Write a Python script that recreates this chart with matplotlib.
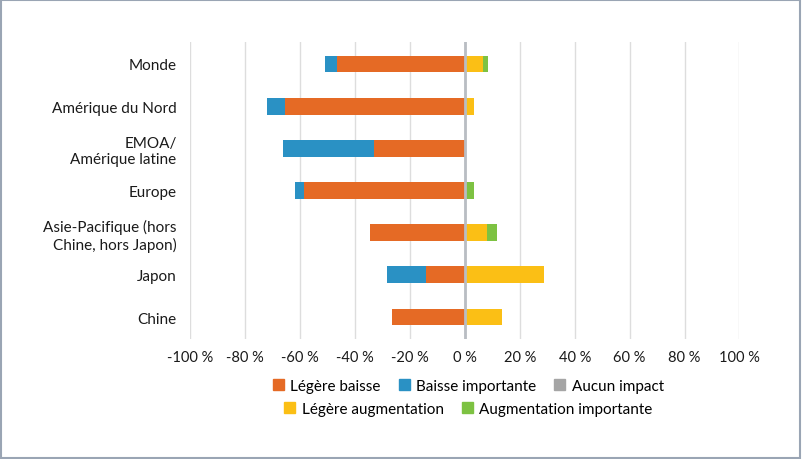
import matplotlib.pyplot as plt
import matplotlib.patches as mpatches
import numpy as np

plt.rcParams['font.family'] = ['Lato', 'DejaVu Sans']

categories = ['Monde', 'Amérique du Nord', 'EMOA/\nAmérique latine', 'Europe',
              'Asie-Pacifique (hors\nChine, hors Japon)', 'Japon', 'Chine']

legere_baisse = [46.5, 65.5, 33.3, 58.5, 34.5, 14.2, 26.5]
baisse_importante = [4.5, 6.6, 33.1, 3.4, 0.0, 14.3, 0.0]
aucun_impact = [0, 0, 0, 0, 0, 0, 0]
legere_augmentation = [6.4, 3.3, 0.0, 0.0, 8.0, 28.7, 13.5]
augmentation_importante = [2.0, 0.0, 0.0, 3.3, 3.8, 0.0, 0.0]

tick_values = [-100, -80, -60, -40, -20, 0, 20, 40, 60, 80, 100]

c_orange = '#E56A25'
c_blue = '#2A91C4'
c_gray = '#A5A5A5'
c_yellow = '#FBBF15'
c_green = '#7DC242'

fig = plt.figure(figsize=(8.02, 4.6), dpi=100)
ax = fig.add_axes([0.2375, 0.261, 0.6845, 0.6455])

y = np.arange(len(categories))
h = 0.4
lb = -np.array(legere_baisse)
bi = -np.array(baisse_importante)
la = np.array(legere_augmentation)
ai = np.array(augmentation_importante)

ax.barh(y, lb, height=h, color=c_orange, zorder=3)
ax.barh(y, bi, left=lb, height=h, color=c_blue, zorder=3)
ax.barh(y, aucun_impact, height=h, color=c_gray, zorder=3)
ax.barh(y, la, height=h, color=c_yellow, zorder=3)
ax.barh(y, ai, left=la, height=h, color=c_green, zorder=3)

ax.axvline(0, color='#B9BDC3', lw=2, zorder=4)

ax.set_xlim(-100, 100)
ax.set_ylim(len(categories) - 0.48, -0.52)
ax.set_xticks(tick_values)
ax.set_xticklabels([f'{v} %' for v in tick_values], fontsize=10.5, color='#1a1a1a')
ax.set_yticks(y)
ax.set_yticklabels(categories, fontsize=11, color='#1a1a1a')
ax.tick_params(length=0, pad=8)
ax.tick_params(axis='y', pad=10)
ax.grid(axis='x', color='#DDDDDD', lw=1, zorder=0)
for s in ax.spines.values():
    s.set_visible(False)

names = ['Légère baisse', 'Baisse importante', 'Aucun impact']
cols = [c_orange, c_blue, c_gray]
h1 = [mpatches.Patch(color=c) for c in cols]
fig.legend(h1, names, loc='center', bbox_to_anchor=(0.584, 0.159), ncol=3,
           frameon=False, fontsize=11, handlelength=0.72, handleheight=0.72,
           handletextpad=0.4, columnspacing=1.2)
names2 = ['Légère augmentation', 'Augmentation importante']
h2 = [mpatches.Patch(color=c) for c in [c_yellow, c_green]]
fig.legend(h2, names2, loc='center', bbox_to_anchor=(0.584, 0.109), ncol=2,
           frameon=False, fontsize=11, handlelength=0.72, handleheight=0.72,
           handletextpad=0.4, columnspacing=1.2)

fig.patches.append(mpatches.Rectangle((0.001, 0.002), 0.997, 0.996, transform=fig.transFigure,
                                      fill=False, edgecolor='#9AA5B4', lw=1.5))

fig.savefig('out.png', dpi=100)
